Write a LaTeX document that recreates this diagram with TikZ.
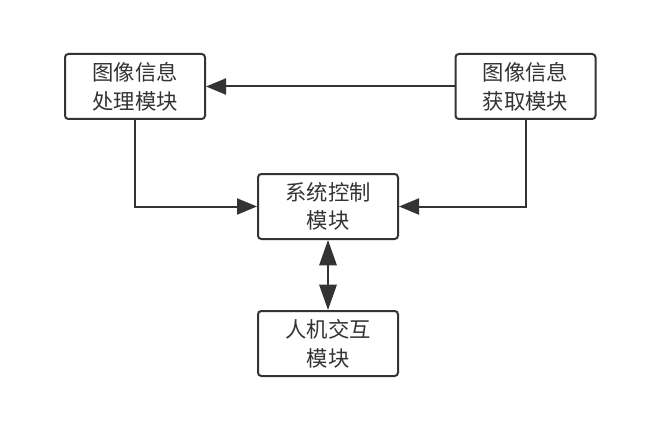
\documentclass[tikz,border=0pt]{standalone}
\usepackage{fontspec}
\newfontfamily\cjk{Noto Sans CJK SC}
\usetikzlibrary{arrows.meta}
\definecolor{linegray}{HTML}{333333}

\begin{document}
\begin{tikzpicture}[x=0.75pt,y=-0.75pt,
  module/.style={draw=linegray, line width=1.5pt, rounded corners=2.5pt, fill=white,
    minimum width=105pt, minimum height=48.75pt, align=center, inner sep=0pt,
    text=linegray, font=\cjk\fontsize{16}{21.5}\selectfont},
  link/.style={draw=linegray, line width=1.5pt, -{Triangle[length=15pt,width=12pt]}},
  duplex/.style={draw=linegray, line width=1.5pt, {Triangle[length=19pt,width=13pt]}-{Triangle[length=19pt,width=13pt]}}]
\useasboundingbox (0,0) rectangle (659,424);
\node[module] (process) at (135,86.5) {图像信息\\处理模块};
\node[module] (acquire) at (525.5,86.5) {图像信息\\获取模块};
\node[module] (control) at (328,206.5) {系统控制\\模块};
\node[module] (hmi) at (328,343.5) {人机交互\\模块};
\draw[link] (acquire.west) -- (process.east);
\draw[link] (process.south) |- (control.west);
\draw[link] (acquire.south) |- (control.east);
\draw[duplex] (control.south) -- (hmi.north);
\end{tikzpicture}
\end{document}
